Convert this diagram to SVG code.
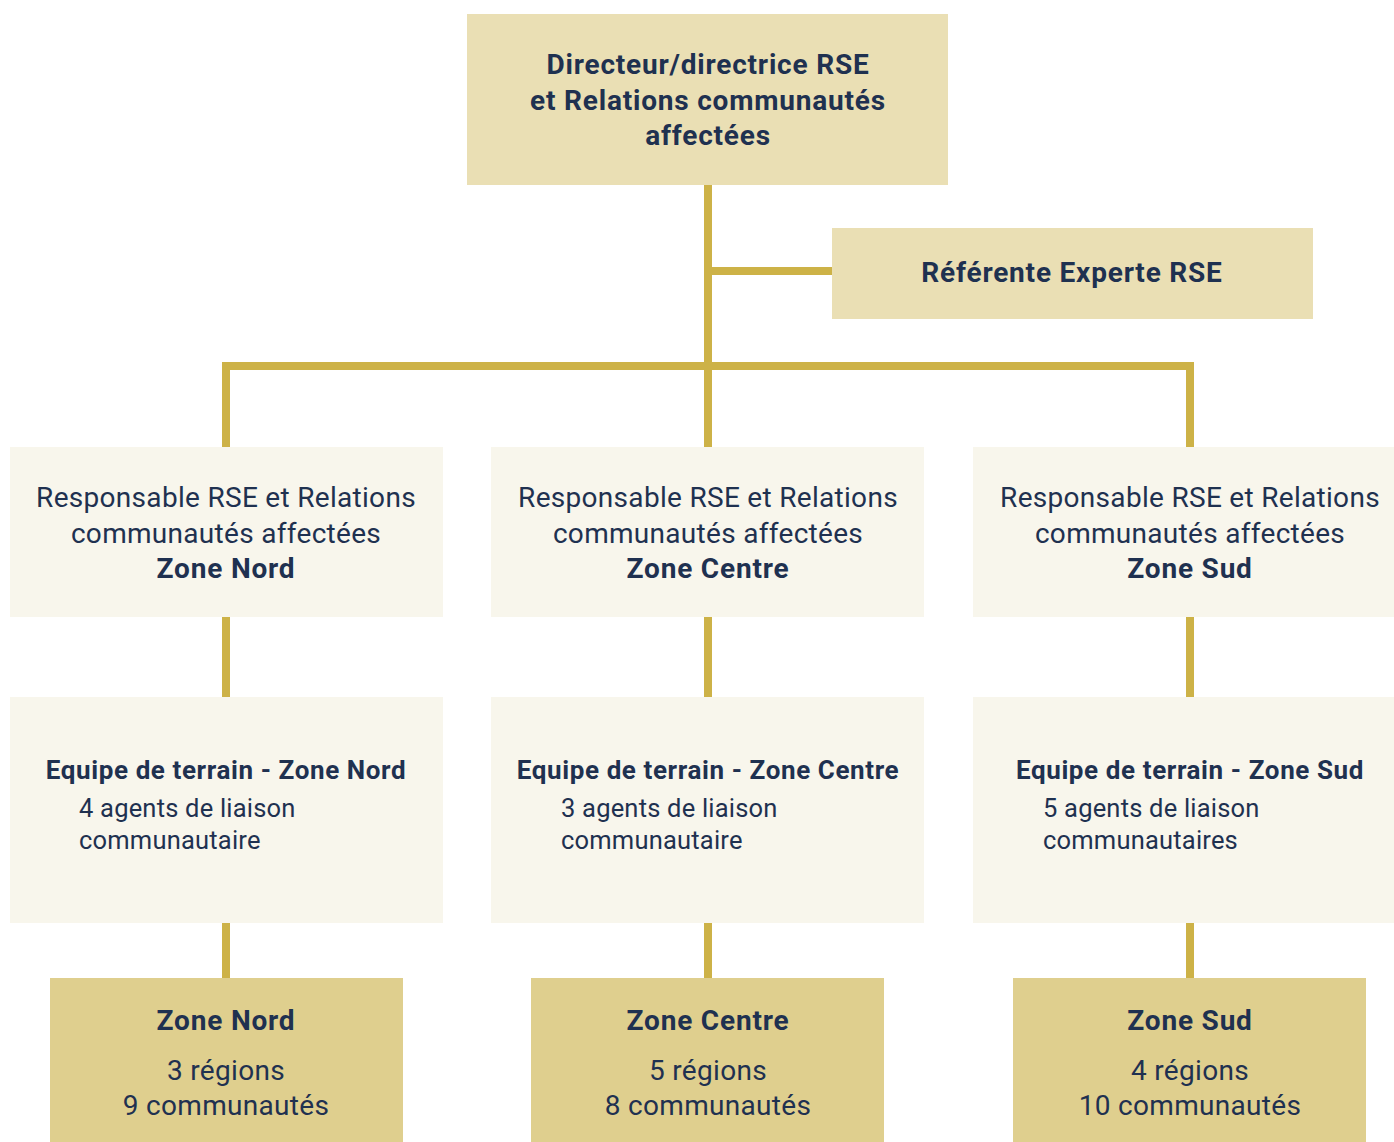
<svg xmlns="http://www.w3.org/2000/svg" width="1394" height="1142" viewBox="0 0 1394 1142">
<style>
.t{font-family:Roboto,"Liberation Sans",sans-serif;fill:#1F3150;font-size:28px;letter-spacing:0.3px}
.b{font-weight:bold;letter-spacing:0.8px}
.c{text-anchor:middle}
.sb{font-size:26px;letter-spacing:0.6px}
.s{font-size:25.5px;letter-spacing:0.2px}
.dark{fill:#EADFB4}
.light{fill:#F8F6EC}
.gold{fill:#DFCF8E}
.ln{stroke:#CDB247;stroke-width:8;fill:none}
</style>
<rect width="1394" height="1142" fill="#FFFFFF"/>
<g id="connectors">
<line class="ln" x1="708" y1="185" x2="708" y2="447"/>
<line class="ln" x1="708" y1="271" x2="832" y2="271"/>
<polyline class="ln" points="226,447 226,366 1190,366 1190,447"/>
<line class="ln" x1="226" y1="617" x2="226" y2="697"/>
<line class="ln" x1="708" y1="617" x2="708" y2="697"/>
<line class="ln" x1="1190" y1="617" x2="1190" y2="697"/>
<line class="ln" x1="226" y1="923" x2="226" y2="978"/>
<line class="ln" x1="708" y1="923" x2="708" y2="978"/>
<line class="ln" x1="1190" y1="923" x2="1190" y2="978"/>
</g>
<g id="director">
<rect class="dark" x="467" y="14" width="481" height="171"/>
<text class="t b c" x="708" y="74">Directeur/directrice RSE</text>
<text class="t b c" x="708" y="110">et Relations communautés</text>
<text class="t b c" x="708" y="145">affectées</text>
</g>
<g id="referente">
<rect class="dark" x="832" y="228" width="481" height="91"/>
<text class="t b c" x="1072" y="282">Référente Experte RSE</text>
</g>
<g id="resp-nord">
<rect class="light" x="10" y="447" width="433" height="170"/>
<text class="t c" x="226" y="507">Responsable RSE et Relations</text>
<text class="t c" x="226" y="543">communautés affectées</text>
<text class="t b c" x="226" y="578">Zone Nord</text>
</g>
<g id="resp-centre">
<rect class="light" x="491" y="447" width="433" height="170"/>
<text class="t c" x="708" y="507">Responsable RSE et Relations</text>
<text class="t c" x="708" y="543">communautés affectées</text>
<text class="t b c" x="708" y="578">Zone Centre</text>
</g>
<g id="resp-sud">
<rect class="light" x="973" y="447" width="433" height="170"/>
<text class="t c" x="1190" y="507">Responsable RSE et Relations</text>
<text class="t c" x="1190" y="543">communautés affectées</text>
<text class="t b c" x="1190" y="578">Zone Sud</text>
</g>
<g id="equipe-nord">
<rect class="light" x="10" y="697" width="433" height="226"/>
<text class="t b c sb" x="226" y="779">Equipe de terrain - Zone Nord</text>
<text class="t s" x="79" y="817">4 agents de liaison</text>
<text class="t s" x="79" y="849">communautaire</text>
</g>
<g id="equipe-centre">
<rect class="light" x="491" y="697" width="433" height="226"/>
<text class="t b c sb" x="708" y="779">Equipe de terrain - Zone Centre</text>
<text class="t s" x="561" y="817">3 agents de liaison</text>
<text class="t s" x="561" y="849">communautaire</text>
</g>
<g id="equipe-sud">
<rect class="light" x="973" y="697" width="433" height="226"/>
<text class="t b c sb" x="1190" y="779">Equipe de terrain - Zone Sud</text>
<text class="t s" x="1043" y="817">5 agents de liaison</text>
<text class="t s" x="1043" y="849">communautaires</text>
</g>
<g id="zone-nord">
<rect class="gold" x="50" y="978" width="353" height="164"/>
<text class="t b c" x="226" y="1030">Zone Nord</text>
<text class="t c" x="226" y="1080">3 régions</text>
<text class="t c" x="226" y="1115">9 communautés</text>
</g>
<g id="zone-centre">
<rect class="gold" x="531" y="978" width="353" height="164"/>
<text class="t b c" x="708" y="1030">Zone Centre</text>
<text class="t c" x="708" y="1080">5 régions</text>
<text class="t c" x="708" y="1115">8 communautés</text>
</g>
<g id="zone-sud">
<rect class="gold" x="1013" y="978" width="353" height="164"/>
<text class="t b c" x="1190" y="1030">Zone Sud</text>
<text class="t c" x="1190" y="1080">4 régions</text>
<text class="t c" x="1190" y="1115">10 communautés</text>
</g>
</svg>
